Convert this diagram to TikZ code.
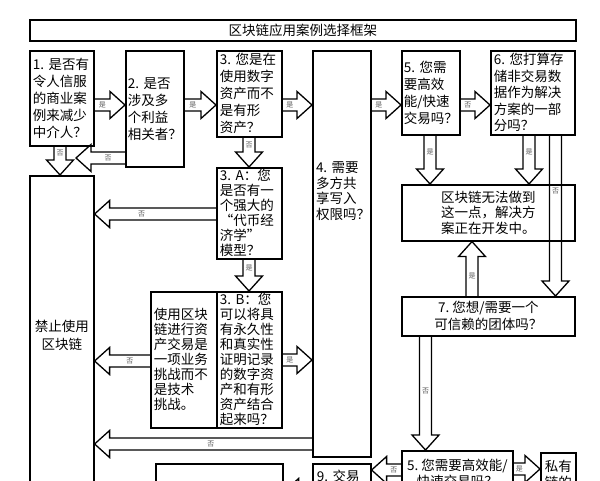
\documentclass[tikz,border=0pt]{standalone}
\usepackage{fontspec}
\newfontfamily\cjk{Noto Sans CJK SC}
\usetikzlibrary{calc}

% hollow block arrow from #2 to #3, label #4 at fraction #1 of the shaft
\newcommand{\blockarrow}[4][0.5]{%
  \path (#2) coordinate (ba1) (#3) coordinate (ba2);
  \pgfpointdiff{\pgfpointanchor{ba1}{center}}{\pgfpointanchor{ba2}{center}}%
  \pgfgetlastxy{\badx}{\bady}%
  \pgfmathsetmacro\baang{atan2(\bady,\badx)}%
  \pgfmathsetmacro\balen{veclen(\badx,\bady)}%
  \begin{scope}[shift={(ba1)}, rotate=\baang, x=1pt, y=1pt]
    \draw[fatarrow] (0,-6) -- (\balen-15,-6) -- (\balen-15,-13.5) -- (\balen,0)
      -- (\balen-15,13.5) -- (\balen-15,6) -- (0,6);
    \node[yesno] at ({#1*(\balen-15)},0) {#4};
  \end{scope}}

\begin{document}
\begin{tikzpicture}[x=1pt, y=-1pt,
    box/.style={draw, line width=1.6pt, inner sep=0pt, anchor=north west,
      align=left, font=\cjk\fontsize{13.5}{17}\selectfont},
    dense/.style={font=\cjk\fontsize{13.5}{15}\selectfont},
    fatarrow/.style={line width=1.3pt, line join=miter},
    yesno/.style={inner sep=0pt, text=black!65, font=\cjk\fontsize{7}{8}\selectfont}]
    \useasboundingbox (0,0) rectangle (600,481);
    \clip (0,0) rectangle (600,481);

    % Title
    \node[box, align=center, minimum width=546pt, minimum height=21pt] (title) at (29,19) {区块链应用案例选择框架};

    % Question boxes, top row
    \node[box, minimum width=64pt, minimum height=95pt, text width=58pt] (b1) at (29,50)
        {1.~是否有\\令人信服\\的商业案\\例来减少\\中介人？};
    \node[box, minimum width=58pt, minimum height=116pt, text width=54pt] (b2) at (125,50)
        {2.~是否\\涉及多\\个利益\\相关者？};
    \node[box, minimum width=65pt, minimum height=86pt, text width=59pt] (b3) at (216,50)
        {3.~您是在\\使用数字\\资产而不\\是有形\\资产？};
    \node[box, minimum width=58pt, minimum height=406pt] (b4) at (312,50) {};
    \node[align=left, inner sep=0pt, text width=50pt, font=\cjk\fontsize{13.5}{15.5}\selectfont] (b4t) at (341,191)
        {4.~需要\\多方共\\享写入\\权限吗？};
    \node[box, minimum width=58pt, minimum height=84pt, text width=54pt] (b5) at (401,50)
        {5.~您需\\要高效\\能/快速\\交易吗？};
    \node[box, minimum width=84pt, minimum height=84pt, text width=78pt, font=\cjk\fontsize{13.5}{16.5}\selectfont] (b6) at (490,50)
        {6.~您打算存\\储非交易数\\据作为解决\\方案的一部\\分吗？};

    % Results and lower questions
    \node[box, align=center, minimum width=173pt, minimum height=56pt, font=\cjk\fontsize{13.5}{15.5}\selectfont] (bno) at (401,184)
        {区块链无法做到\\这一点，解决方\\案正在开发中。};
    \node[box, align=center, minimum width=173pt, minimum height=39pt] (b7) at (401,296)
        {7.~您想/需要一个\\可信赖的团体吗？};
    \node[box, align=center, minimum width=64pt, minimum height=320pt, font=\cjk\fontsize{13.5}{18}\selectfont] (stop) at (29,175)
        {禁止使用\\区块链};
    \node[box, dense, minimum width=65pt, minimum height=91pt, text width=59pt] (b3a) at (216,167)
        {3.~A：您\\是否有一\\个强大的\\“代币经\\济学”\\模型？};
    \node[box, dense, minimum width=65pt, minimum height=136pt, text width=59pt] (b3b) at (216,291)
        {3.~B：您\\可以将具\\有永久性\\和真实性\\证明记录\\的数字资\\产和有形\\资产结合\\起来吗？};
    \node[box, dense, minimum width=66pt, minimum height=136pt, text width=60pt] (buse) at (150,291)
        {使用区块\\链进行资\\产交易是\\一项业务\\挑战而不\\是技术\\挑战。};

    % Bottom row (cut off)
    \node[box, minimum width=127pt, minimum height=30pt] (bempty) at (155,463) {};
    \node[box, minimum width=58pt, minimum height=26pt, text width=50pt] (b9) at (312,463) {9.~交易};
    \node[box, align=center, minimum width=111pt, minimum height=46pt, font=\cjk\fontsize{13.5}{16}\selectfont] (b5b) at (401,450)
        {5.~您需要高效能/\\快速交易吗？};
    \node[box, align=center, minimum width=35pt, minimum height=44pt, font=\cjk\fontsize{13.5}{16}\selectfont] (bpriv) at (540,452)
        {私有\\链的};

    \coordinate (tip2) at (76,158);

    % Yes arrows
    \blockarrow{b1.east |- 0,105}{b2.west |- 0,105}{是}
    \blockarrow{b2.east |- 0,105}{b3.west |- 0,105}{是}
    \blockarrow{b3.east |- 0,105}{b4.west |- 0,105}{是}
    \blockarrow{b4.east |- 0,105}{b5.west |- 0,105}{是}
    \blockarrow{b3a.south -| 249,0}{b3b.north -| 249,0}{是}
    \blockarrow{b3b.east |- 0,360}{b4.west |- 0,360}{是}
    \blockarrow{b5.south -| 430,0}{bno.north -| 430,0}{是}
    \blockarrow{b6.south -| 529,0}{bno.north -| 529,0}{是}
    \blockarrow{b7.north -| 472,0}{bno.south -| 472,0}{是}
    \blockarrow{b5b.east |- 0,469}{bpriv.west |- 0,469}{是}

    % No arrows
    \blockarrow{b5.east |- 0,105}{b6.west |- 0,105}{否}
    \blockarrow{b1.south -| 60,0}{stop.north -| 60,0}{否}
    \blockarrow{b2.west |- 0,158}{tip2}{否}
    \blockarrow{b3.south -| 249,0}{b3a.north -| 249,0}{否}
    \blockarrow[0.7]{b3a.west |- 0,214}{stop.east |- 0,214}{否}
    \blockarrow{buse.west |- 0,361}{stop.east |- 0,361}{否}
    \blockarrow{b4.west |- 0,444}{stop.east |- 0,444}{否}
    \blockarrow[0.38]{b6.south -| 555.5,0}{b7.north -| 555.5,0}{否}
    \blockarrow[0.55]{b7.south -| 425.5,0}{b5b.north -| 425.5,0}{否}
    \blockarrow{b5b.west |- 0,470}{b9.east |- 0,470}{否}
    \blockarrow{b9.west |- 0,492}{bempty.east |- 0,492}{}
\end{tikzpicture}
\end{document}
